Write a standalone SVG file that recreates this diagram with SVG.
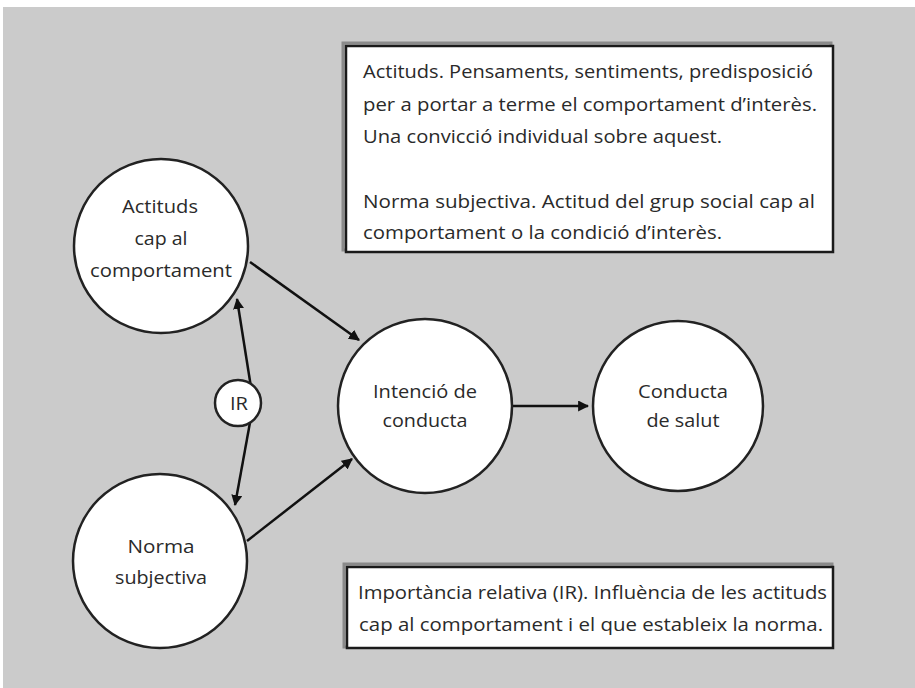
<svg xmlns="http://www.w3.org/2000/svg" width="915" height="688" viewBox="0 0 915 688">
<defs>
<marker id="ah" viewBox="0 0 10 10" refX="9" refY="5" markerWidth="11" markerHeight="11" markerUnits="userSpaceOnUse" orient="auto">
<path d="M0,0 L10,5 L0,10 z" fill="#111"/>
</marker>
<style>
.node{fill:#fff;stroke:#222;stroke-width:2.5}
.box{fill:#fff;stroke:#1a1a1a;stroke-width:2.5}
.shadow{fill:none;stroke:#8a8a8a;stroke-width:3}
.lbl{font-family:"Open Sans","Liberation Sans",sans-serif;font-size:18px;fill:#2a2a2a;text-anchor:middle}
.txt{font-family:"Open Sans","Liberation Sans",sans-serif;font-size:18px;fill:#2a2a2a}
.con{fill:none;stroke:#111;stroke-width:2.5;marker-end:url(#ah)}
</style>
</defs>
<rect x="0" y="0" width="915" height="688" fill="#fff"/>
<rect x="3" y="7" width="912" height="681" fill="#cbcbcb"/>
<g id="connectors">
<line class="con" x1="250" y1="262" x2="359" y2="340"/>
<line class="con" x1="247" y1="541" x2="352" y2="459"/>
<line class="con" x1="513" y1="406" x2="588" y2="406"/>
<polyline class="con" points="253,400 237,299"/>
<polyline class="con" points="253,406 235,505"/>
</g>
<g id="actituds">
<circle class="node" cx="161" cy="246" r="87"/>
<text class="lbl" x="160" y="213" textLength="76" lengthAdjust="spacingAndGlyphs">Actituds</text>
<text class="lbl" x="161" y="245" textLength="53" lengthAdjust="spacingAndGlyphs">cap al</text>
<text class="lbl" x="161" y="277" textLength="142" lengthAdjust="spacingAndGlyphs">comportament</text>
</g>
<g id="norma">
<circle class="node" cx="160" cy="561" r="87"/>
<text class="lbl" x="161" y="553" textLength="67" lengthAdjust="spacingAndGlyphs">Norma</text>
<text class="lbl" x="161" y="584" textLength="92" lengthAdjust="spacingAndGlyphs">subjectiva</text>
</g>
<g id="ir">
<circle class="node" cx="238" cy="403" r="23"/>
<text class="lbl" x="239" y="410" textLength="18" lengthAdjust="spacingAndGlyphs">IR</text>
</g>
<g id="intencio">
<circle class="node" cx="425" cy="406" r="87"/>
<text class="lbl" x="425" y="398" textLength="104" lengthAdjust="spacingAndGlyphs">Intenció de</text>
<text class="lbl" x="425" y="427" textLength="85" lengthAdjust="spacingAndGlyphs">conducta</text>
</g>
<g id="conducta">
<circle class="node" cx="678" cy="406" r="85"/>
<text class="lbl" x="683" y="398" textLength="90" lengthAdjust="spacingAndGlyphs">Conducta</text>
<text class="lbl" x="683" y="427" textLength="73" lengthAdjust="spacingAndGlyphs">de salut</text>
</g>
<g id="def-box">
<rect class="shadow" x="343" y="43" width="488" height="207"/>
<rect class="box" x="346" y="46" width="487" height="206"/>
<text class="txt" x="363" y="78" textLength="450" lengthAdjust="spacingAndGlyphs">Actituds. Pensaments, sentiments, predisposició</text>
<text class="txt" x="363" y="111" textLength="454" lengthAdjust="spacingAndGlyphs">per a portar a terme el comportament d’interès.</text>
<text class="txt" x="363" y="143" textLength="359" lengthAdjust="spacingAndGlyphs">Una convicció individual sobre aquest.</text>
<text class="txt" x="363" y="208" textLength="452" lengthAdjust="spacingAndGlyphs">Norma subjectiva. Actitud del grup social cap al</text>
<text class="txt" x="363" y="239" textLength="359" lengthAdjust="spacingAndGlyphs">comportament o la condició d’interès.</text>
</g>
<g id="ir-box">
<rect class="shadow" x="344" y="564" width="488" height="83"/>
<rect class="box" x="347" y="567" width="486" height="81"/>
<text class="txt" x="358" y="599" textLength="469" lengthAdjust="spacingAndGlyphs">Importància relativa (IR). Influència de les actituds</text>
<text class="txt" x="359" y="631" textLength="464" lengthAdjust="spacingAndGlyphs">cap al comportament i el que estableix la norma.</text>
</g>
</svg>
